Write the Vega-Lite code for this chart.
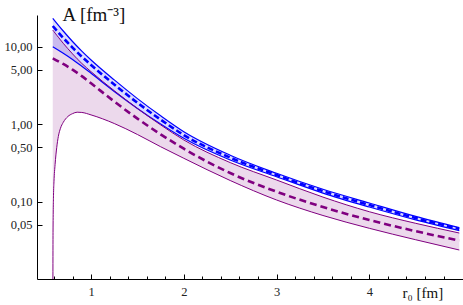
{
  "$schema": "https://vega.github.io/schema/vega-lite/v6.json",
  "width": 426,
  "height": 264,
  "padding": {"left": 37, "top": 15, "right": 0, "bottom": 26},
  "autosize": {"type": "none"},
  "background": "white",
  "config": {
    "view": {"stroke": null},
    "mark": {"invalid": "filter", "clip": true},
    "axis": {"grid": false, "labelFont": "Liberation Serif, Times New Roman, serif", "titleFont": "Liberation Serif, Times New Roman, serif", "labelColor": "#222", "titleColor": "#111", "domainColor": "#000", "tickColor": "#000", "titleFontWeight": "normal"}
  },
  "data": {"values": [
    {"r": 0.587, "bu": 23.12, "bd": 18.39, "bl": 9.94, "pu": 16.33, "pd": 7.04, "pl": 0.001},
    {"r": 0.59, "pu": 16.13, "pl": 0.04},
    {"r": 0.595, "pu": 15.85, "pl": 0.12},
    {"r": 0.6, "pu": 15.57, "pl": 0.18},
    {"r": 0.612, "pu": 14.89, "pl": 0.30},
    {"r": 0.63, "pu": 13.99, "pl": 0.50},
    {"r": 0.647, "pu": 13.18, "pl": 0.69},
    {"r": 0.67, "pu": 12.17, "pl": 0.88},
    {"r": 0.7, "bu": 15.85, "bd": 12.91, "bl": 8.20, "pu": 11.00, "pd": 5.95, "pl": 1.05},
    {"r": 0.75, "pu": 9.37, "pl": 1.25},
    {"r": 0.8, "bu": 11.60, "bd": 9.68, "bl": 6.82, "pu": 8.03, "pd": 5.02, "pl": 1.36},
    {"r": 0.85, "pu": 6.94, "pl": 1.42},
    {"r": 0.9, "bu": 8.72, "bd": 7.39, "bl": 5.57, "pu": 6.05, "pd": 4.15, "pl": 1.41},
    {"r": 1.0, "bu": 6.70, "bd": 5.77, "bl": 4.51, "pu": 4.73, "pd": 3.35, "pl": 1.31},
    {"r": 1.25, "bu": 3.707, "bd": 3.234, "bl": 2.634, "pu": 2.690, "pd": 1.95, "pl": 1.015},
    {"r": 1.5, "bu": 2.127, "bd": 1.877, "bl": 1.590, "pu": 1.585, "pd": 1.174, "pl": 0.732},
    {"r": 1.75, "bu": 1.276, "bd": 1.140, "bl": 1.000, "pu": 0.974, "pd": 0.736, "pl": 0.509},
    {"r": 2.0, "bu": 0.7955, "bd": 0.7210, "bl": 0.6537, "pu": 0.6218, "pd": 0.480, "pl": 0.361},
    {"r": 2.5, "bu": 0.3958, "bd": 0.3685, "bl": 0.3431, "pu": 0.3176, "pd": 0.233, "pl": 0.1866},
    {"r": 3.0, "bu": 0.2311, "bd": 0.2197, "bl": 0.2089, "pu": 0.1894, "pd": 0.1338, "pl": 0.1046},
    {"r": 3.5, "bu": 0.1437, "bd": 0.1358, "bl": 0.1284, "pu": 0.1140, "pd": 0.0849, "pl": 0.0660},
    {"r": 4.0, "bu": 0.0957, "bd": 0.0901, "bl": 0.0849, "pu": 0.0738, "pd": 0.0577, "pl": 0.0451},
    {"r": 4.5, "bu": 0.0642, "bd": 0.0611, "bl": 0.0579, "pu": 0.0523, "pd": 0.0414, "pl": 0.0321},
    {"r": 4.97, "bu": 0.0459, "bd": 0.0442, "bl": 0.0420, "pu": 0.0392, "pd": 0.0313, "pl": 0.02366}
  ]},
  "layer": [
    {
      "mark": {"type": "area", "color": "#800080", "opacity": 0.15, "interpolate": "monotone", "clip": true},
      "encoding": {
        "x": {"field": "r", "type": "quantitative", "scale": {"domain": [0.417, 5.01], "nice": false, "zero": false},
          "axis": {"orient": "bottom", "values": [1, 2, 3, 4], "tickSize": -5, "labelPadding": 11, "labelFontSize": 12.5, "labelFlush": false, "domainWidth": 1, "tickWidth": 1,
            "title": "r₀ [fm]", "titleFontSize": 15, "titleAlign": "left", "titleBaseline": "alphabetic", "titleX": 365, "titleY": 18, "titleAnchor": null}},
        "y": {"field": "pu", "type": "quantitative", "scale": {"type": "log", "domain": [0.01, 25.5], "nice": false},
          "axis": {"orient": "left", "values": [0.05, 0.1, 0.5, 1, 5, 10], "tickSize": -5, "labelPadding": 10, "labelFontSize": 12.5, "labelFlush": false,
            "labelExpr": "replace(format(datum.value, '.2f'), '.', ',')", "domainWidth": 1, "tickWidth": 1,
            "title": "A [fm⁻³]", "titleFontSize": 19, "titleAngle": 0, "titleAlign": "left", "titleBaseline": "alphabetic", "titleX": 25, "titleY": 5}},
        "y2": {"field": "pl"}
      }
    },
    {
      "mark": {"type": "area", "color": "#0000ff", "opacity": 0.14, "interpolate": "monotone", "clip": true},
      "encoding": {
        "x": {"field": "r", "type": "quantitative", "scale": {"domain": [0.417, 5.01], "nice": false, "zero": false},
          "axis": {"orient": "bottom", "values": [0.6, 0.8, 1.2, 1.4, 1.6, 1.8, 2.2, 2.4, 2.6, 2.8, 3.2, 3.4, 3.6, 3.8, 4.2, 4.4, 4.6, 4.8], "tickSize": -3, "labels": false, "domain": false, "title": null, "tickWidth": 1}},
        "y": {"field": "bu", "type": "quantitative", "scale": {"type": "log", "domain": [0.01, 25.5], "nice": false}, "axis": null},
        "y2": {"field": "bl"}
      }
    },
    {
      "mark": {"type": "line", "color": "#0000ff", "strokeWidth": 1.2, "interpolate": "monotone", "clip": true},
      "encoding": {
        "x": {"field": "r", "type": "quantitative", "scale": {"domain": [0.417, 5.01], "nice": false, "zero": false}, "axis": null},
        "y": {"field": "bu", "type": "quantitative", "scale": {"type": "log", "domain": [0.01, 25.5], "nice": false}, "axis": null}
      }
    },
    {
      "mark": {"type": "line", "color": "#0000ff", "strokeWidth": 1.2, "interpolate": "monotone", "clip": true},
      "encoding": {
        "x": {"field": "r", "type": "quantitative", "scale": {"domain": [0.417, 5.01], "nice": false, "zero": false}, "axis": null},
        "y": {"field": "bl", "type": "quantitative", "scale": {"type": "log", "domain": [0.01, 25.5], "nice": false}, "axis": null}
      }
    },
    {
      "mark": {"type": "line", "color": "#0000ff", "strokeWidth": 2.6, "strokeDash": [6, 3], "interpolate": "monotone", "clip": true},
      "encoding": {
        "x": {"field": "r", "type": "quantitative", "scale": {"domain": [0.417, 5.01], "nice": false, "zero": false}, "axis": null},
        "y": {"field": "bd", "type": "quantitative", "scale": {"type": "log", "domain": [0.01, 25.5], "nice": false}, "axis": null}
      }
    },
    {
      "mark": {"type": "line", "color": "#800080", "strokeWidth": 1, "interpolate": "monotone", "clip": true},
      "encoding": {
        "x": {"field": "r", "type": "quantitative", "scale": {"domain": [0.417, 5.01], "nice": false, "zero": false}, "axis": null},
        "y": {"field": "pu", "type": "quantitative", "scale": {"type": "log", "domain": [0.01, 25.5], "nice": false}, "axis": null}
      }
    },
    {
      "mark": {"type": "line", "color": "#800080", "strokeWidth": 2.6, "strokeDash": [7, 4], "interpolate": "monotone", "clip": true},
      "encoding": {
        "x": {"field": "r", "type": "quantitative", "scale": {"domain": [0.417, 5.01], "nice": false, "zero": false}, "axis": null},
        "y": {"field": "pd", "type": "quantitative", "scale": {"type": "log", "domain": [0.01, 25.5], "nice": false}, "axis": null}
      }
    },
    {
      "mark": {"type": "line", "color": "#800080", "strokeWidth": 1, "interpolate": "monotone", "clip": true},
      "encoding": {
        "x": {"field": "r", "type": "quantitative", "scale": {"domain": [0.417, 5.01], "nice": false, "zero": false}, "axis": null},
        "y": {"field": "pl", "type": "quantitative", "scale": {"type": "log", "domain": [0.01, 25.5], "nice": false}, "axis": null}
      }
    }
  ],
  "resolve": {"axis": {"x": "independent", "y": "independent"}}
}
